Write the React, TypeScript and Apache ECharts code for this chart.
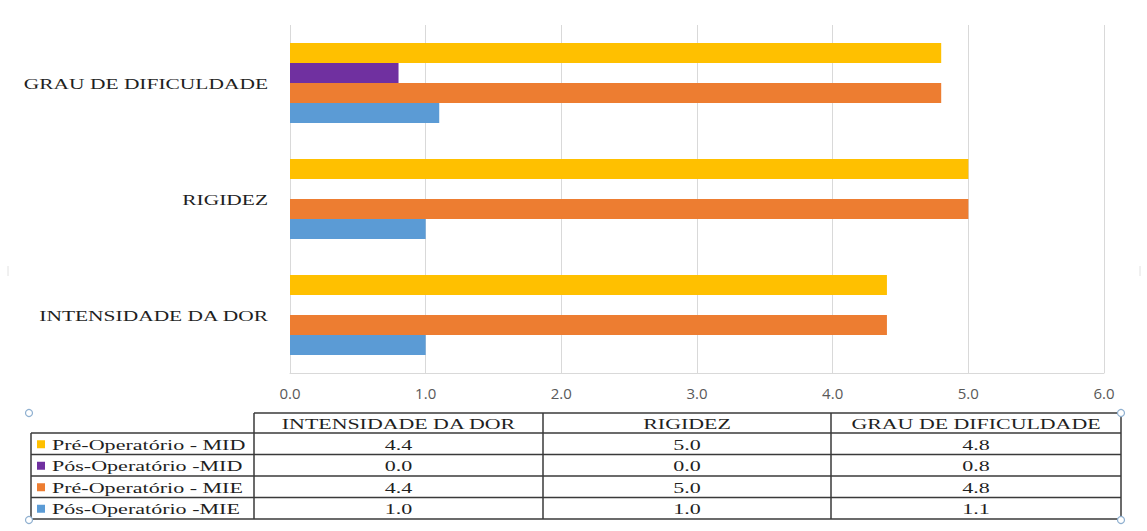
import React, { useEffect, useRef } from 'react';
import * as echarts from 'echarts';

// ---- data ----
const categories = ['INTENSIDADE DA DOR', 'RIGIDEZ', 'GRAU DE DIFICULDADE'];
const seriesNames = ['Pré-Operatório - MID', 'Pós-Operatório -MID', 'Pré-Operatório - MIE', 'Pós-Operatório -MIE'];
const preMID = [4.4, 5.0, 4.8];
const posMID = [0.0, 0.0, 0.8];
const preMIE = [4.4, 5.0, 4.8];
const posMIE = [1.0, 1.0, 1.1];
const xTicks = [0, 1, 2, 3, 4, 5, 6];

const seriesValues = [preMID, posMID, preMIE, posMIE];
const seriesColors = ['#FFC000', '#7030A0', '#ED7D31', '#5B9BD5'];

const SERIF = '"Liberation Serif", "Times New Roman", serif';
const TEXT = '#1f1f1f';

export default function App() {
  const ref = useRef<HTMLDivElement>(null);

  useEffect(() => {
    const chart = echarts.init(ref.current!, null, { renderer: 'svg' });
    const gridLeft = 290;
    const gridRight = 43;
    const gridTop = 25;
    const gridBottom = 158;

    chart.setOption({
      animation: false,
      backgroundColor: '#ffffff',
      grid: { left: gridLeft, right: gridRight, top: gridTop, bottom: gridBottom, containLabel: false },
      xAxis: {
        type: 'value',
        min: xTicks[0],
        max: xTicks[xTicks.length - 1],
        interval: 1,
        axisLine: { show: true, lineStyle: { color: '#d9d9d9', width: 1 } },
        axisTick: { show: false },
        splitLine: { show: true, lineStyle: { color: '#d9d9d9', width: 1 } },
        axisLabel: {
          margin: 12,
          fontSize: 15,
          fontFamily: '"Open Sans", "Liberation Sans", sans-serif',
          color: '#595959',
          formatter: (v: number) => v.toFixed(1),
        },
      },
      yAxis: {
        type: 'category',
        data: categories,
        axisLine: { show: false },
        axisTick: { show: false },
        axisLabel: { show: false },
        splitLine: { show: false },
      },
      series: seriesNames.map((name, i) => ({
        name,
        type: 'bar',
        data: seriesValues[i],
        itemStyle: { color: seriesColors[i] },
        barGap: '0%',
        barCategoryGap: '31%',
      })),
    });

    // category labels (stretched serif as in the reference)
    const graphics: any[] = [];
    categories.forEach((c) => {
      const y = chart.convertToPixel({ yAxisIndex: 0 }, c) as number;
      graphics.push({
        type: 'text',
        x: 268,
        y: y + 1,
        scaleX: 1.43,
        style: { text: c, fontFamily: SERIF, fontSize: 15, fill: TEXT, align: 'right', verticalAlign: 'middle' },
      });
    });

    // data table
    const colX = [254, 543, 831, 1121];
    const legendLeft = 31;
    const headTop = 413;
    const headBottom = 433;
    const rowH = 21.5;
    const rowYs = seriesNames.map((_, i) => headBottom + i * rowH);
    const tableBottom = headBottom + seriesNames.length * rowH;
    const lineStyle = { stroke: '#3a3a3a', lineWidth: 1.5 };

    graphics.push({ type: 'line', shape: { x1: colX[0], y1: headTop, x2: colX[3], y2: headTop }, style: lineStyle });
    [...rowYs, tableBottom].forEach((y) => {
      graphics.push({ type: 'line', shape: { x1: legendLeft, y1: y, x2: colX[3], y2: y }, style: lineStyle });
    });
    graphics.push({ type: 'line', shape: { x1: legendLeft, y1: headBottom, x2: legendLeft, y2: tableBottom }, style: lineStyle });
    colX.forEach((x) => {
      graphics.push({ type: 'line', shape: { x1: x, y1: headTop, x2: x, y2: tableBottom }, style: lineStyle });
    });

    // header texts: columns follow the category order
    categories.forEach((c, j) => {
      graphics.push({
        type: 'text',
        x: (colX[j] + colX[j + 1]) / 2,
        y: (headTop + headBottom) / 2 + 1,
        scaleX: 1.46,
        style: { text: c, fontFamily: SERIF, fontSize: 15, fill: TEXT, align: 'center', verticalAlign: 'middle' },
      });
    });

    seriesNames.forEach((name, i) => {
      const cy = rowYs[i] + rowH / 2 + 1;
      graphics.push({
        type: 'rect',
        shape: { x: 37, y: cy - 4.5, width: 8, height: 8 },
        style: { fill: seriesColors[i] },
      });
      graphics.push({
        type: 'text',
        x: 52,
        y: cy,
        scaleX: 1.47,
        style: { text: name, fontFamily: SERIF, fontSize: 15, fill: TEXT, align: 'left', verticalAlign: 'middle' },
      });
      seriesValues[i].forEach((v, j) => {
        graphics.push({
          type: 'text',
          x: (colX[j] + colX[j + 1]) / 2,
          y: cy,
          scaleX: 1.47,
          style: { text: v.toFixed(1), fontFamily: SERIF, fontSize: 15, fill: TEXT, align: 'center', verticalAlign: 'middle' },
        });
      });
    });

    // selection handles
    [[29, 413], [1121, 413], [29, 520], [1121, 520]].forEach(([cx, cy]) => {
      graphics.push({
        type: 'circle',
        shape: { cx, cy, r: 3.5 },
        style: { fill: '#ffffff', stroke: '#8fb0d0', lineWidth: 1.2 },
        z: 10,
      });
    });
    // faint side marks of the chart frame
    [[8, 266, 8, 276], [1140, 266, 1140, 276]].forEach(([x1, y1, x2, y2]) => {
      graphics.push({ type: 'line', shape: { x1, y1, x2, y2 }, style: { stroke: '#e2e2e2', lineWidth: 1 } });
    });

    chart.setOption({ graphic: graphics });

    return () => chart.dispose();
  }, []);

  return (
    <div
      ref={ref}
      style={{ position: 'fixed', left: 0, top: 0, width: 1147, height: 531, background: '#ffffff' }}
    />
  );
}
